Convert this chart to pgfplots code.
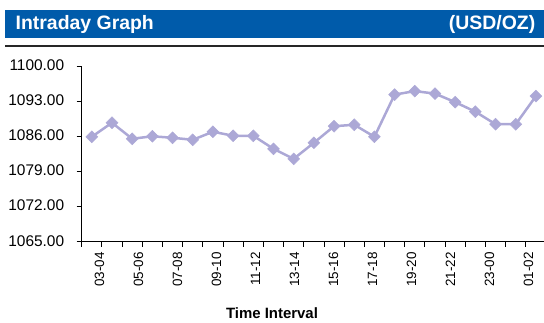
\documentclass[border=0pt]{standalone}
\usepackage{pgfplots}
\pgfplotsset{compat=1.18}
\usepackage{fontspec}
\setmainfont{Liberation Sans}
\definecolor{hdrblue}{RGB}{0,91,170}
\definecolor{lav}{RGB}{172,168,214}
\begin{document}
\begin{tikzpicture}[x=1bp,y=1bp]
\useasboundingbox (0,0) rectangle (544,322);
\fill[hdrblue] (5,284) rectangle (544,312);
\node[anchor=west,text=white,font=\fontsize{19.5}{22}\selectfont\bfseries,inner sep=0pt] at (15.5,298) {Intraday Graph};
\node[anchor=east,text=white,font=\fontsize{19.5}{22}\selectfont\bfseries,inner sep=0pt] at (535.5,298) {(USD/OZ)};
\draw[line width=2bp,black!85] (5,276) -- (544,276);
\begin{axis}[
  at={(81.7bp,80.3bp)}, anchor=south west,
  width=464.3bp, height=175.7bp, scale only axis,
  xmin=-0.5, xmax=22.5, ymin=1065, ymax=1100,
  axis x line*=bottom, axis y line*=left,
  axis line style={black, line width=0.8bp, -},
  xtick={0.38,2.31,4.25,6.18,8.11,10.04,11.97,13.90,15.84,17.77,19.70,21.63},
  xticklabels={03-04,05-06,07-08,09-10,11-12,13-14,15-16,17-18,19-20,21-22,23-00,01-02},
  minor xtick={-0.5,0.5,...,22.5},
  major x tick style={draw=none},
  minor tick length=5bp, major tick length=5bp,
  tick align=outside,
  tick style={black, line width=0.8bp},
  ytick={1065,1072,1079,1086,1093,1100},
  /pgf/number format/fixed,
  /pgf/number format/fixed zerofill,
  /pgf/number format/precision=2,
  /pgf/number format/1000 sep={},
  /pgf/number format/assume math mode=true,
  yticklabel style={font=\fontsize{15.5}{18}\selectfont, xshift=-9bp, yshift=1bp},
  xticklabel style={font=\fontsize{13.5}{16}\selectfont, rotate=90, anchor=east},
  xticklabel shift=2bp,
  clip=false,
]
\addplot[color=lav, line width=2.5bp, mark=square*, mark size=4.2bp, mark options={rotate=45, fill=lav, draw=lav, line width=0.5bp}]
coordinates {
(0,1085.9) (1,1088.7) (2,1085.5) (3,1086.0) (4,1085.7) (5,1085.3) (6,1086.9) (7,1086.1) (8,1086.1) (9,1083.5)
(10,1081.5) (11,1084.7) (12,1088.0) (13,1088.3) (14,1085.9) (15,1094.3) (16,1095.0) (17,1094.5) (18,1092.8) (19,1090.9)
(20,1088.4) (21,1088.4) (22,1094.0)
};
\end{axis}
\node[anchor=base,font=\fontsize{15}{17}\selectfont\bfseries,inner sep=0pt] at (272,4) {Time Interval};
\end{tikzpicture}
\end{document}
